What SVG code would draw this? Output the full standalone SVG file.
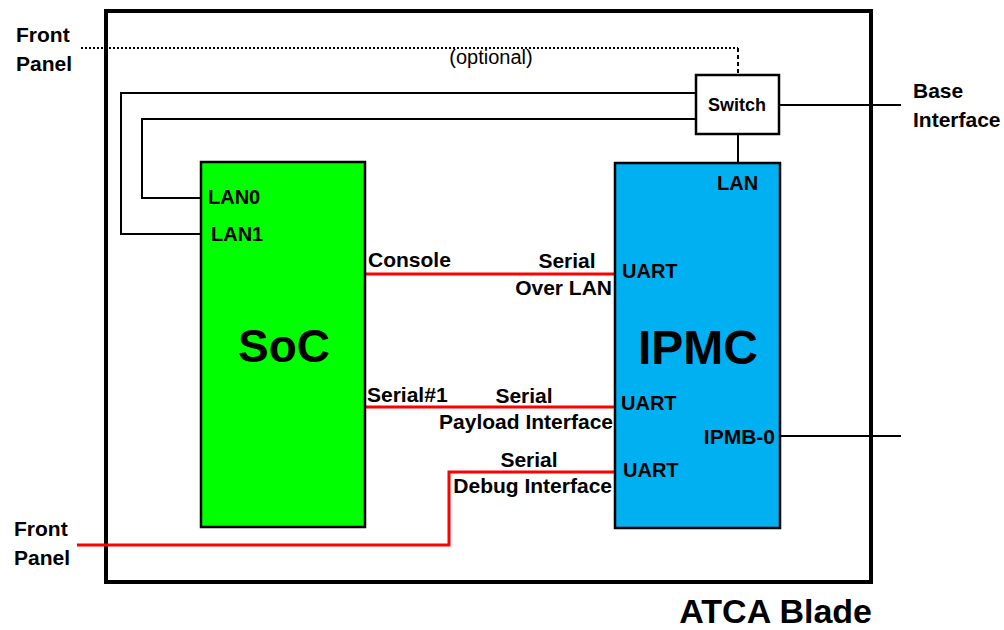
<svg xmlns="http://www.w3.org/2000/svg" width="1004" height="630" viewBox="0 0 1004 630">
<style>
text{font-family:"Liberation Sans",Arial,sans-serif;font-weight:bold;fill:#000}
.l{font-size:21px}
.p{font-size:20px}
.big{font-size:46px}
.opt{font-weight:normal;font-size:20px}
.wire{fill:none;stroke:#000;stroke-width:2}
.red{fill:none;stroke:#ff0000;stroke-width:3}
.box{stroke:#000;stroke-width:2.5}
</style>
<rect width="1004" height="630" fill="#fff"/>
<g id="blade">
<rect x="106" y="11" width="765" height="571" fill="none" stroke="#000" stroke-width="4"/>
<text x="872" y="623" text-anchor="end" style="font-size:34px">ATCA Blade</text>
</g>
<g id="connectors">
<path d="M81 48H738" fill="none" stroke="#000" stroke-width="2" stroke-dasharray="2 2"/>
<path d="M738 48V75" fill="none" stroke="#000" stroke-width="2" stroke-dasharray="4 3"/>
<path class="wire" d="M696 93H121V234H201"/>
<path class="wire" d="M696 119H142V198H201"/>
<path class="wire" d="M738 134V163"/>
<path class="wire" d="M779 105H901"/>
<path class="wire" d="M780 436H901"/>
<path class="red" d="M365 274H615"/>
<path class="red" d="M365 407H615"/>
<path class="red" d="M615 472H449V545H77"/>
</g>
<g id="switch">
<rect class="box" x="696" y="75" width="83" height="59" fill="#fff"/>
<text x="737" y="111" text-anchor="middle" style="font-size:18px">Switch</text>
</g>
<g id="soc">
<rect class="box" x="201" y="162" width="164" height="365" fill="#00ff00"/>
<text x="284" y="362" text-anchor="middle" class="big">SoC</text>
<text x="208" y="204" class="p">LAN0</text>
<text x="211" y="241" class="p">LAN1</text>
</g>
<g id="ipmc">
<rect class="box" x="615" y="163" width="165" height="365" fill="#00b0f0"/>
<text x="698" y="364" text-anchor="middle" style="font-size:48px">IPMC</text>
<text x="717" y="190" class="p">LAN</text>
<text x="622" y="278" class="p">UART</text>
<text x="621" y="410" class="p">UART</text>
<text x="623" y="477" class="p">UART</text>
<text x="775" y="444" text-anchor="end" class="l">IPMB-0</text>
</g>
<g id="labels">
<text x="16" y="42" class="l">Front</text>
<text x="16" y="71" class="l">Panel</text>
<text x="14" y="536" class="l">Front</text>
<text x="14" y="565" class="l">Panel</text>
<text x="913" y="98" class="l">Base</text>
<text x="913" y="127" class="l">Interface</text>
<text x="491" y="64" text-anchor="middle" class="opt">(optional)</text>
<text x="368" y="267" class="l">Console</text>
<text x="567" y="268" text-anchor="middle" class="l">Serial</text>
<text x="612" y="295" text-anchor="end" class="l">Over LAN</text>
<text x="367" y="402" class="l">Serial#1</text>
<text x="524" y="403" text-anchor="middle" class="l">Serial</text>
<text x="613" y="429" text-anchor="end" class="l">Payload Interface</text>
<text x="529" y="467" text-anchor="middle" class="l">Serial</text>
<text x="612" y="493" text-anchor="end" class="l">Debug Interface</text>
</g>
</svg>
